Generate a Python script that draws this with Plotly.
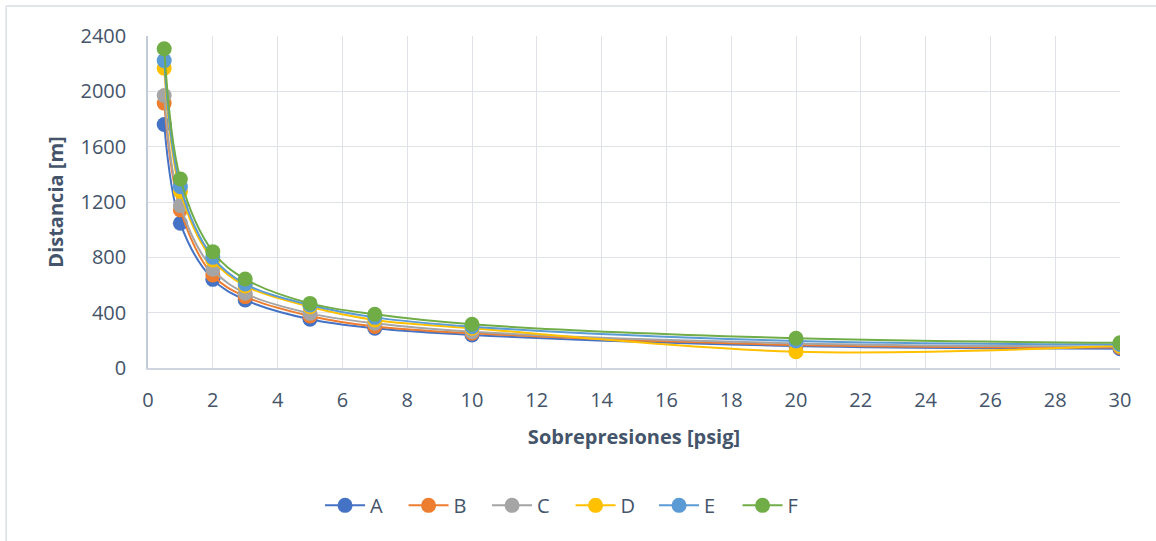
import plotly.graph_objects as go

# Overpressure levels (psig) and hazard distances (m) per scenario
sobrepresion = [0.5, 1, 2, 3, 5, 7, 10, 20, 30]
serie_A = [1760, 1046, 641, 492, 352, 287, 239, 159, 140]
serie_B = [1915, 1142, 672, 516, 376, 300, 251, 166, 148]
serie_C = [1970, 1174, 714, 540, 395, 323, 262, 178, 155]
serie_D = [2168, 1276, 781, 593, 443, 347, 287, 118, 160]
serie_E = [2222, 1311, 800, 607, 455, 366, 299, 195, 170]
serie_F = [2308, 1366, 841, 643, 467, 388, 316, 215, 182]

nombres = ["A", "B", "C", "D", "E", "F"]
series = [serie_A, serie_B, serie_C, serie_D, serie_E, serie_F]
colores = ["#4472C4", "#ED7D31", "#A5A5A5", "#FFC000", "#5B9BD5", "#70AD47"]

x_ticks = list(range(0, 31, 2))
y_ticks = [0, 400, 800, 1200, 1600, 2000, 2400]

texto = "#44546A"
fuente = "Open Sans"

fig = go.Figure()
for nombre, valores, color in zip(nombres, series, colores):
    fig.add_trace(go.Scatter(
        x=sobrepresion, y=valores, name=nombre,
        mode="lines+markers",
        line=dict(color=color, width=2, shape="spline", smoothing=1),
        marker=dict(color=color, size=15, line=dict(width=0)),
    ))

# Outer chart frame (left and top edges)
L, T, B, R = -0.146, 1.090, -0.53, 1.04
fig.add_shape(type="line", xref="paper", yref="paper", x0=L, x1=L, y0=B, y1=T,
              line=dict(color="#D9DEE5", width=1.5))
fig.add_shape(type="line", xref="paper", yref="paper", x0=L, x1=R, y0=T, y1=T,
              line=dict(color="#D9DEE5", width=1.5))

fig.update_layout(
    width=1156, height=541,
    margin=dict(l=148, r=36, t=36, b=173),
    paper_bgcolor="white", plot_bgcolor="white",
    font=dict(family=fuente, size=20, color=texto),
    showlegend=True,
    legend=dict(orientation="h", x=0.177, xanchor="left", y=-0.355, yanchor="top",
                font=dict(size=20, color=texto), entrywidth=28.5, itemwidth=40,
                traceorder="normal"),
    xaxis=dict(
        range=[0, 30], tickvals=x_ticks, ticktext=[str(v) for v in x_ticks],
        showgrid=True, gridcolor="#DFE3E9", gridwidth=1.3,
        showline=True, linecolor="#D0D6DF", linewidth=1.5,
        zeroline=False, ticks="", ticklen=0, ticklabelstandoff=13,
        tickfont=dict(size=20, color=texto),
        title=dict(text="<b>Sobrepresiones [psig]</b>", font=dict(size=20, color=texto),
                   standoff=18),
    ),
    yaxis=dict(
        range=[0, 2400], tickvals=y_ticks, ticktext=[str(v) for v in y_ticks],
        showgrid=True, gridcolor="#DFE3E9", gridwidth=1.3,
        showline=True, linecolor="#C3CBD8", linewidth=1.5,
        zeroline=False, ticks="", ticklen=0, ticklabelstandoff=16,
        tickfont=dict(size=20, color=texto),
        title=dict(text="<b>Distancia [m]</b>", font=dict(size=20, color=texto),
                   standoff=12),
    ),
)

fig.write_html("out.html")
